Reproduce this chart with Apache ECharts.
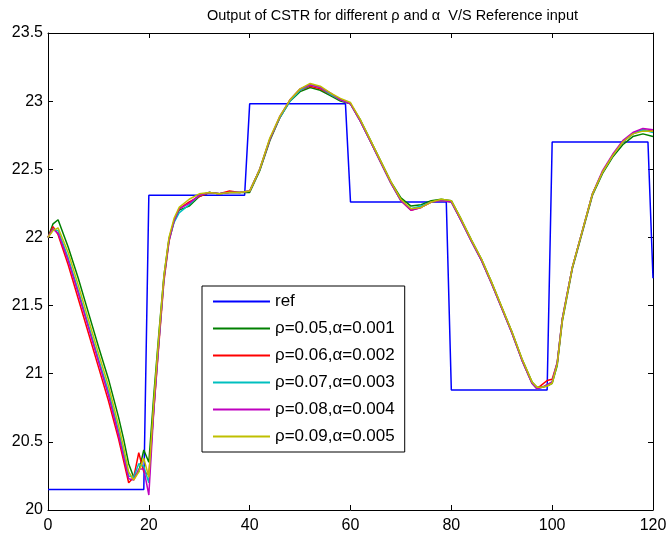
<!DOCTYPE html>
<html>
<head>
<meta charset="utf-8">
<script src="https://cdn.jsdelivr.net/npm/echarts@6/dist/echarts.min.js"></script>
<style>
html,body{margin:0;padding:0;background:#fff;}
#chart{width:670px;height:539px;}
</style>
</head>
<body>
<div id="chart"></div>
<script>
const titleText = 'Output of CSTR for different \u03c1 and \u03b1  V/S Reference input';
const xTicks = [0, 20, 40, 60, 80, 100, 120];
const yTicks = [20, 20.5, 21, 21.5, 22, 22.5, 23, 23.5];

const refX = [0, 19, 20, 39, 40, 59, 60, 79, 80, 99, 100, 119, 120];
const refY = [20.15, 20.15, 22.31, 22.31, 22.98, 22.98, 22.26, 22.26, 20.88, 20.88, 22.70, 22.70, 21.70];

const t = [0,1,2,4,6,8,10,12,14,15,16,17,18,19,20,21,22,23,24,25,26,28,30,32,34,36,38,40,42,44,46,48,50,52,54,56,58,60,62,64,66,68,70,72,74,76,78,80,82,84,86,88,90,92,94,96,97,98,99,100,101,102,104,106,108,110,112,114,116,118,120];

const y1 = [22.00,22.10,22.13,21.93,21.70,21.45,21.20,20.96,20.68,20.52,20.34,20.24,20.28,20.44,20.35,20.85,21.30,21.72,21.99,22.12,22.20,22.23,22.30,22.33,22.32,22.33,22.33,22.33,22.49,22.71,22.88,23.00,23.07,23.10,23.08,23.04,23.00,22.98,22.86,22.71,22.56,22.41,22.29,22.23,22.24,22.27,22.28,22.27,22.13,21.98,21.84,21.67,21.49,21.31,21.11,20.94,20.90,20.90,20.91,20.93,21.06,21.38,21.77,22.04,22.31,22.47,22.59,22.68,22.74,22.76,22.74];
const y2 = [22.00,22.08,22.02,21.80,21.55,21.30,21.05,20.80,20.52,20.36,20.20,20.24,20.42,20.28,20.26,20.74,21.22,21.68,21.97,22.12,22.21,22.26,22.30,22.33,22.32,22.34,22.33,22.34,22.50,22.72,22.88,23.01,23.08,23.11,23.09,23.05,23.01,22.98,22.85,22.70,22.55,22.40,22.27,22.20,22.22,22.26,22.27,22.26,22.12,21.97,21.83,21.66,21.48,21.30,21.10,20.93,20.89,20.92,20.95,20.96,21.08,21.40,21.78,22.05,22.32,22.48,22.60,22.70,22.76,22.79,22.78];
const y3 = [22.00,22.06,22.05,21.85,21.61,21.36,21.11,20.87,20.58,20.42,20.25,20.24,20.34,20.32,20.20,20.76,21.24,21.70,21.98,22.11,22.18,22.24,22.31,22.33,22.32,22.33,22.33,22.34,22.50,22.72,22.88,23.00,23.08,23.12,23.10,23.05,23.01,22.98,22.85,22.70,22.55,22.40,22.27,22.21,22.23,22.26,22.27,22.26,22.12,21.97,21.83,21.66,21.48,21.30,21.10,20.93,20.89,20.90,20.92,20.94,21.08,21.40,21.78,22.05,22.32,22.48,22.60,22.70,22.76,22.79,22.77];
const y4 = [22.00,22.06,22.03,21.83,21.59,21.34,21.09,20.84,20.55,20.39,20.23,20.22,20.30,20.30,20.11,20.74,21.24,21.70,21.98,22.12,22.21,22.25,22.31,22.33,22.32,22.33,22.33,22.34,22.50,22.72,22.89,23.01,23.09,23.12,23.10,23.06,23.01,22.98,22.85,22.70,22.55,22.40,22.27,22.20,22.22,22.26,22.27,22.26,22.12,21.97,21.83,21.66,21.48,21.30,21.10,20.93,20.89,20.90,20.92,20.94,21.08,21.40,21.78,22.05,22.32,22.49,22.61,22.71,22.77,22.80,22.79];
const y5 = [22.00,22.05,22.07,21.89,21.65,21.40,21.15,20.91,20.62,20.46,20.28,20.22,20.28,20.38,20.24,20.80,21.28,21.72,22.00,22.14,22.22,22.28,22.32,22.33,22.32,22.33,22.33,22.34,22.50,22.73,22.89,23.01,23.09,23.13,23.11,23.06,23.02,22.99,22.86,22.71,22.56,22.41,22.28,22.21,22.22,22.26,22.28,22.27,22.13,21.98,21.84,21.67,21.49,21.31,21.11,20.94,20.90,20.90,20.91,20.93,21.07,21.39,21.78,22.05,22.32,22.48,22.60,22.70,22.76,22.78,22.78];

const names = ['ref', '\u03c1=0.05,\u03b1=0.001', '\u03c1=0.06,\u03b1=0.002', '\u03c1=0.07,\u03b1=0.003', '\u03c1=0.08,\u03b1=0.004', '\u03c1=0.09,\u03b1=0.005'];
const colors = ['#0000ff', '#008000', '#ff0000', '#00bfbf', '#bf00bf', '#bfbf00'];

const FONT = 'Liberation Sans, Arial, Helvetica, sans-serif';
const zip = (xs, ys) => xs.map((x, i) => [x, ys[i]]);
const curves = [zip(refX, refY), zip(t, y1), zip(t, y2), zip(t, y3), zip(t, y4), zip(t, y5)];

const chart = echarts.init(document.getElementById('chart'), null, {renderer: 'canvas'});
const axisCommon = {
  type: 'value',
  axisLine: {show: true, onZero: false, lineStyle: {color: '#000', width: 1}},
  axisTick: {show: true, inside: true, length: 5, lineStyle: {color: '#000', width: 1}},
  splitLine: {show: false}
};
chart.setOption({
  animation: false,
  backgroundColor: '#fff',
  title: {
    text: titleText, left: 202, top: 3,
    textStyle: {fontSize: 14.5, fontWeight: 'normal', color: '#000', fontFamily: FONT}
  },
  grid: {left: 48, right: 17, top: 33, bottom: 29, containLabel: false},
  xAxis: [
    Object.assign({}, axisCommon, {min: 0, max: 120, interval: 20, position: 'bottom',
      axisLabel: {color: '#000', fontSize: 16, fontFamily: FONT, margin: 8}}),
    Object.assign({}, axisCommon, {min: 0, max: 120, interval: 20, position: 'top',
      axisLabel: {show: false}})
  ],
  yAxis: [
    Object.assign({}, axisCommon, {min: 20, max: 23.5, interval: 0.5, position: 'left',
      axisLabel: {color: '#000', fontSize: 16, fontFamily: FONT, margin: 5,
        formatter: v => String(+v.toFixed(1))}}),
    Object.assign({}, axisCommon, {min: 20, max: 23.5, interval: 0.5, position: 'right',
      axisLabel: {show: false}})
  ],
  legend: {
    orient: 'vertical', left: 202, top: 286,
    backgroundColor: '#fff', borderColor: '#000', borderWidth: 1, borderRadius: 0,
    padding: [7, 10, 7, 11],
    itemWidth: 57, itemHeight: 2, itemGap: 10, icon: 'rect',
    textStyle: {fontSize: 17, color: '#000', fontFamily: FONT},
    data: names
  },
  series: curves.map((d, i) => ({
    name: names[i], type: 'line', data: d, showSymbol: false, symbol: 'none',
    lineStyle: {color: colors[i], width: 1.5}, itemStyle: {color: colors[i]},
    clip: true, z: 2 + i
  }))
});
</script>
</body>
</html>
